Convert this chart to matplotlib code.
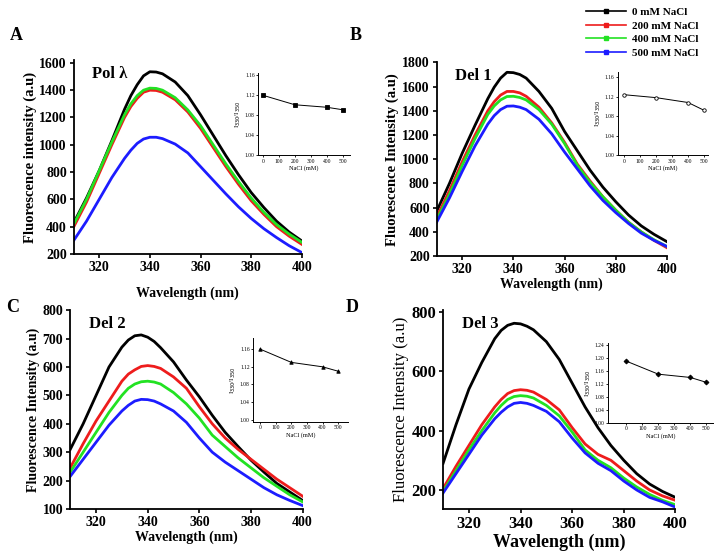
import numpy as np
import matplotlib
matplotlib.use('Agg')
import matplotlib.pyplot as plt
from matplotlib.lines import Line2D

plt.rcParams['font.family'] = ['Liberation Serif', 'DejaVu Serif']

wl = [310, 315, 320, 325, 330, 332.5, 335, 337.5, 340, 342.5, 345, 350, 355,
      360, 365, 370, 375, 380, 385, 390, 395, 400]

labels = ['0 mM NaCl', '200 mM NaCl', '400 mM NaCl', '500 mM NaCl']
colors = ['black', '#ee1c1c', '#22e222', '#1c1cff']

# panel A : Pol lambda
a_0 = [430, 610, 810, 1030, 1260, 1360, 1440, 1505, 1535, 1533, 1520, 1460, 1360,
       1220, 1070, 920, 780, 650, 540, 440, 360, 295]
a_200 = [400, 580, 790, 1000, 1200, 1280, 1340, 1385, 1400, 1398, 1385, 1330, 1240,
         1120, 980, 840, 710, 590, 490, 400, 330, 270]
a_400 = [420, 600, 810, 1020, 1220, 1300, 1360, 1400, 1415, 1413, 1400, 1345, 1255,
         1140, 1000, 860, 730, 610, 505, 415, 345, 285]
a_500 = [300, 440, 600, 760, 900, 960, 1010, 1042, 1055, 1055, 1045, 1005, 940,
         840, 740, 640, 545, 460, 385, 320, 260, 210]

# panel B : Del 1
b_0 = [570, 800, 1050, 1280, 1500, 1595, 1670, 1718, 1715, 1700, 1670, 1560, 1420,
       1230, 1070, 910, 770, 650, 540, 450, 380, 320]
b_200 = [520, 740, 980, 1200, 1400, 1475, 1530, 1560, 1560, 1548, 1520, 1430, 1300,
         1140, 960, 820, 690, 580, 480, 400, 330, 270]
b_400 = [500, 710, 950, 1170, 1370, 1440, 1490, 1518, 1520, 1510, 1490, 1410, 1290,
         1130, 950, 810, 690, 580, 480, 400, 335, 280]
b_500 = [480, 680, 900, 1110, 1290, 1360, 1410, 1438, 1440, 1430, 1410, 1330, 1210,
         1060, 920, 780, 660, 560, 470, 390, 330, 280]

# panel C : Del 2
c_0 = [310, 400, 500, 600, 670, 695, 710, 713, 705, 690, 668, 618, 554,
       495, 430, 370, 320, 272, 230, 190, 160, 130]
c_200 = [245, 330, 410, 480, 550, 575, 590, 602, 605, 602, 595, 565, 525,
         460, 400, 350, 310, 275, 240, 205, 175, 145]
c_400 = [230, 300, 370, 440, 500, 525, 540, 548, 550, 547, 540, 510, 470,
         420, 360, 320, 280, 245, 210, 180, 150, 125]
c_500 = [215, 275, 335, 395, 445, 465, 480, 486, 485, 480, 470, 445, 405,
         350, 300, 265, 235, 205, 175, 150, 130, 112]

# panel D : Del 3
d_0 = [290, 420, 540, 630, 710, 738, 755, 762, 760, 752, 740, 700, 640,
       560, 480, 410, 350, 300, 255, 220, 195, 175]
d_200 = [205, 280, 350, 420, 480, 505, 525, 535, 538, 536, 530, 505, 470,
         410, 355, 320, 300, 265, 230, 200, 180, 165]
d_400 = [195, 265, 335, 400, 460, 485, 505, 515, 518, 516, 510, 485, 450,
         395, 335, 300, 275, 240, 210, 185, 165, 150]
d_500 = [190, 255, 320, 385, 440, 462, 480, 492, 495, 492, 485, 465, 430,
         375, 325, 290, 265, 230, 200, 175, 160, 142]

# insets: intensity ratio vs NaCl
nacl = [0, 200, 400, 500]
ratio_a = [1.120, 1.101, 1.096, 1.091]
ratio_b = [1.124, 1.118, 1.108, 1.092]
ratio_c = [1.160, 1.130, 1.120, 1.110]
ratio_d = [1.190, 1.150, 1.140, 1.125]

fig = plt.figure(figsize=(7.17, 5.52), dpi=100)


def main_panel(rect, series, ylim, yticks, title, ylabel, fs_tick=10, fs_lab=10,
               lab_weight='bold', fs_x=10, xpad=1):
    ax = fig.add_axes(rect)
    for s, c in zip(series, colors):
        ax.plot(wl, s, color=c, lw=2.0)
    ax.set_xlim(310, 400)
    ax.set_ylim(*ylim)
    ax.set_xticks([320, 340, 360, 380, 400])
    ax.set_yticks(yticks)
    for sp in ['top', 'right']:
        ax.spines[sp].set_visible(False)
    for sp in ['left', 'bottom']:
        ax.spines[sp].set_linewidth(1.3)
    ax.tick_params(direction='out', length=3, width=1.2, labelsize=fs_tick, pad=2)
    for t in ax.get_xticklabels() + ax.get_yticklabels():
        t.set_fontweight('bold')
    ax.set_ylabel(ylabel, fontsize=fs_lab, fontweight=lab_weight, labelpad=2)
    ax.set_xlabel('Wavelength (nm)', fontsize=fs_x, fontweight='bold', labelpad=xpad)
    ax.text(0.08, 0.97, title, transform=ax.transAxes, fontsize=12,
            fontweight='bold', va='top', ha='left')
    return ax


def inset(rect, y, marker, mfc, xlim, ylim, yticks):
    ax = fig.add_axes(rect)
    ax.plot(nacl, y, color='black', lw=0.7, marker=marker, ms=2.5,
            mfc=mfc, mec='black', mew=0.6)
    ax.set_xlim(*xlim)
    ax.set_ylim(*ylim)
    ax.set_xticks([0, 100, 200, 300, 400, 500])
    ax.set_yticks(yticks)
    ax.set_yticklabels(['%.2f' % v for v in yticks])
    for sp in ['top', 'right']:
        ax.spines[sp].set_visible(False)
    for sp in ['left', 'bottom']:
        ax.spines[sp].set_linewidth(0.7)
    ax.tick_params(direction='out', length=1.5, width=0.6, labelsize=4, pad=1)
    ax.set_ylabel('I$_{330}$/I$_{350}$', fontsize=5, labelpad=1)
    ax.set_xlabel('NaCl (mM)', fontsize=4.5, labelpad=1)
    return ax


axA = main_panel([0.103, 0.540, 0.318, 0.351], [a_0, a_200, a_400, a_500],
                 (200, 1620), range(200, 1601, 200), 'Pol λ',
                 'Fluorescence intensity (a.u)', fs_lab=10.5, xpad=9)
axB = main_panel([0.609, 0.536, 0.321, 0.351], [b_0, b_200, b_400, b_500],
                 (200, 1800), range(200, 1801, 200), 'Del 1',
                 'Fluorescence Intensity (a.u)', fs_lab=10.5)
axC = main_panel([0.098, 0.078, 0.324, 0.360], [c_0, c_200, c_400, c_500],
                 (100, 800), range(100, 801, 100), 'Del 2',
                 'Fluorescence Intensity (a.u)')
axD = main_panel([0.618, 0.078, 0.324, 0.360], [d_0, d_200, d_400, d_500],
                 (136, 806), range(200, 801, 200), 'Del 3',
                 'Fluorescence Intensity (a.u)', fs_tick=12, fs_lab=12,
                 lab_weight='normal', fs_x=13)

inset([0.360, 0.719, 0.128, 0.149], ratio_a, 's', 'black', (-30, 545),
      (1.0, 1.165), [1.00, 1.04, 1.08, 1.12, 1.16])
inset([0.862, 0.719, 0.1255, 0.150], ratio_b, 'o', 'white', (-38, 525),
      (1.0, 1.17), [1.00, 1.04, 1.08, 1.12, 1.16])
inset([0.353, 0.2355, 0.1325, 0.152], ratio_c, '^', 'black', (-45, 564),
      (0.995, 1.185), [1.00, 1.04, 1.08, 1.12, 1.16])
inset([0.848, 0.2337, 0.146, 0.145], ratio_d, 'D', 'black', (-115, 540),
      (1.0, 1.246), [1.00, 1.04, 1.08, 1.12, 1.16, 1.20, 1.24])

# panel letters
fig.text(10 / 717, 1 - 35 / 552, 'A', fontsize=13, fontweight='bold', va='center')
fig.text(350 / 717, 1 - 35 / 552, 'B', fontsize=13, fontweight='bold', va='center')
fig.text(6 / 717, 1 - 307 / 552, 'C', fontsize=13, fontweight='bold', va='center')
fig.text(346 / 717, 1 - 307 / 552, 'D', fontsize=13, fontweight='bold', va='center')

handles = [Line2D([], [], color=c, lw=1.2, marker='s', ms=3) for c in colors]
fig.legend(handles, labels, loc='upper right', bbox_to_anchor=(708 / 717, 1.005),
           frameon=False, handlelength=3.6, labelspacing=0.35,
           handletextpad=0.5, prop={'weight': 'bold', 'size': 8})

fig.savefig('out.png', dpi=100)
